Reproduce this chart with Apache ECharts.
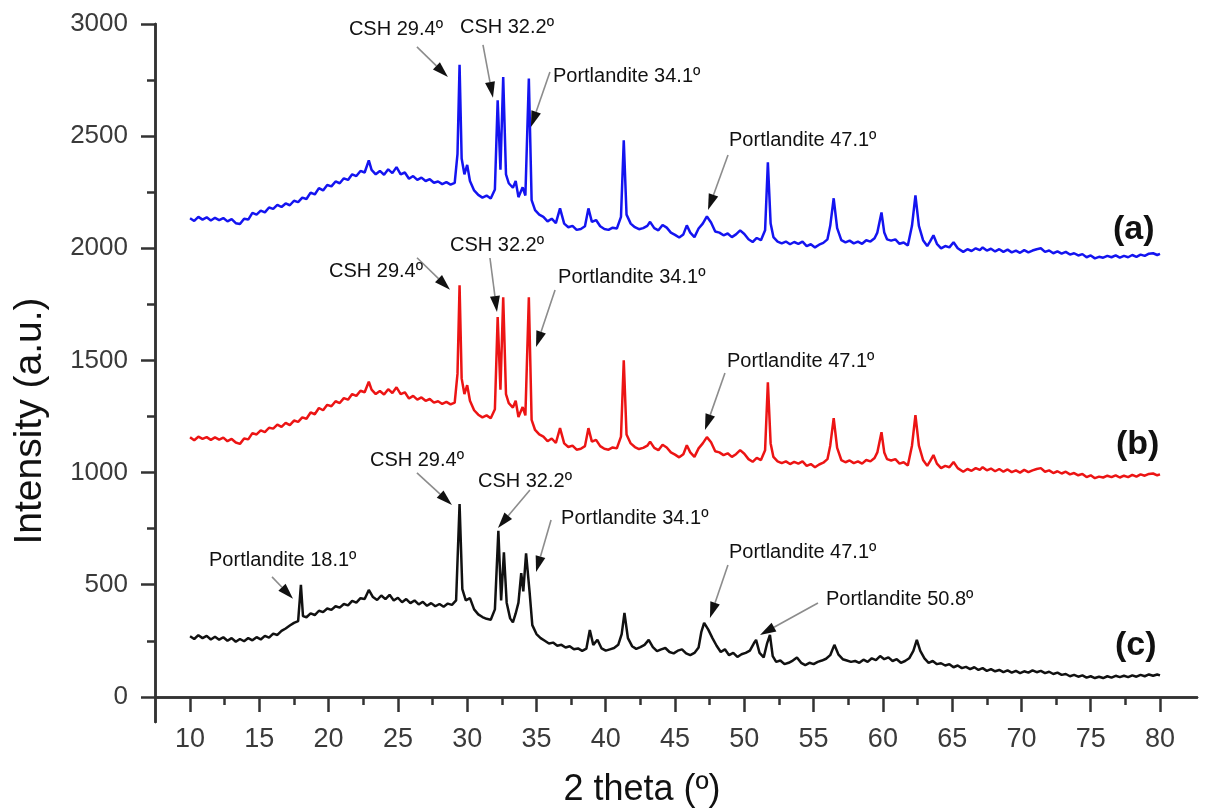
<!DOCTYPE html>
<html><head><meta charset="utf-8">
<script src="https://cdn.jsdelivr.net/npm/echarts@6/dist/echarts.min.js"></script>
<style>html,body{margin:0;padding:0;background:#fff}#c{width:1208px;height:812px}</style>
</head><body><div id="c"></div>
<script>
// ---- data: [2 theta, intensity] ----
const seriesA = [[10.0,2134],[10.3,2122],[10.6,2140],[10.9,2128],[11.2,2138],[11.5,2124],[11.8,2136],[12.1,2126],[12.4,2135],[12.7,2120],[13.0,2130],[13.3,2112],[13.6,2108],[13.9,2132],[14.2,2128],[14.5,2158],[14.8,2150],[15.1,2168],[15.4,2160],[15.7,2182],[16.0,2176],[16.3,2194],[16.6,2184],[16.9,2200],[17.2,2192],[17.5,2212],[17.8,2206],[18.1,2226],[18.4,2220],[18.7,2248],[19.0,2240],[19.3,2268],[19.6,2258],[19.9,2282],[20.2,2276],[20.5,2298],[20.8,2290],[21.1,2312],[21.4,2305],[21.7,2330],[22.0,2322],[22.3,2345],[22.6,2338],[22.9,2392],[23.1,2350],[23.4,2330],[23.7,2345],[24.0,2328],[24.3,2352],[24.6,2335],[24.9,2362],[25.2,2330],[25.5,2338],[25.8,2310],[26.1,2322],[26.4,2305],[26.7,2315],[27.0,2300],[27.3,2308],[27.6,2292],[27.9,2298],[28.2,2286],[28.5,2295],[28.8,2284],[29.1,2292],[29.3,2420],[29.45,2818],[29.6,2400],[29.8,2330],[30.0,2372],[30.2,2300],[30.5,2258],[30.8,2238],[31.1,2226],[31.4,2235],[31.7,2222],[32.0,2262],[32.2,2660],[32.4,2350],[32.6,2764],[32.8,2330],[33.0,2290],[33.3,2270],[33.5,2300],[33.7,2228],[34.0,2272],[34.2,2235],[34.45,2757],[34.65,2215],[34.9,2170],[35.2,2150],[35.5,2140],[35.8,2120],[36.1,2132],[36.4,2112],[36.7,2178],[37.0,2110],[37.3,2094],[37.6,2100],[37.9,2082],[38.2,2086],[38.5,2098],[38.75,2178],[39.0,2118],[39.3,2126],[39.6,2098],[39.9,2086],[40.2,2082],[40.5,2092],[40.8,2088],[41.1,2140],[41.3,2481],[41.5,2150],[41.8,2110],[42.1,2094],[42.4,2085],[42.7,2090],[43.0,2100],[43.2,2118],[43.5,2090],[43.8,2080],[44.1,2104],[44.4,2092],[44.7,2070],[45.0,2060],[45.3,2048],[45.6,2062],[45.85,2102],[46.1,2070],[46.4,2050],[46.7,2088],[47.0,2110],[47.3,2142],[47.6,2115],[47.9,2075],[48.2,2070],[48.5,2058],[48.8,2066],[49.1,2050],[49.4,2062],[49.7,2080],[50.0,2064],[50.3,2040],[50.6,2028],[50.9,2046],[51.2,2036],[51.5,2080],[51.7,2383],[51.9,2110],[52.1,2050],[52.4,2030],[52.7,2022],[53.0,2030],[53.3,2018],[53.6,2028],[53.9,2020],[54.2,2030],[54.5,2010],[54.8,2018],[55.1,2004],[55.4,2016],[55.7,2024],[56.0,2040],[56.2,2100],[56.45,2223],[56.7,2090],[57.0,2036],[57.3,2026],[57.6,2034],[57.9,2022],[58.2,2030],[58.5,2020],[58.8,2036],[59.1,2030],[59.4,2045],[59.6,2070],[59.9,2160],[60.1,2070],[60.3,2040],[60.6,2034],[60.9,2040],[61.2,2020],[61.5,2026],[61.8,2012],[62.1,2100],[62.35,2236],[62.6,2100],[62.9,2036],[63.2,2010],[63.4,2030],[63.65,2058],[63.9,2020],[64.2,2000],[64.5,2010],[64.8,2004],[65.1,2027],[65.4,2000],[65.8,1984],[66.1,1996],[66.4,1988],[66.7,2000],[67.0,1992],[67.2,2004],[67.5,1990],[67.8,1998],[68.1,1986],[68.4,1996],[68.7,1984],[69.0,1994],[69.3,1982],[69.6,1990],[69.9,1980],[70.2,1992],[70.5,1982],[70.8,1990],[71.1,1996],[71.4,2000],[71.7,1984],[72.0,1990],[72.3,1978],[72.6,1986],[72.9,1976],[73.2,1984],[73.5,1972],[73.8,1978],[74.1,1968],[74.4,1974],[74.7,1960],[75.0,1968],[75.3,1955],[75.6,1962],[75.9,1958],[76.2,1966],[76.5,1960],[76.8,1968],[77.1,1958],[77.4,1966],[77.7,1960],[78.0,1970],[78.3,1962],[78.6,1972],[78.9,1966],[79.2,1976],[79.5,1978],[79.8,1970],[80.0,1975]];

const seriesB = [[10.0,1158],[10.3,1144],[10.6,1160],[10.9,1150],[11.2,1158],[11.5,1146],[11.8,1157],[12.1,1147],[12.4,1156],[12.7,1140],[13.0,1150],[13.3,1134],[13.6,1128],[13.9,1152],[14.2,1148],[14.5,1176],[14.8,1170],[15.1,1188],[15.4,1180],[15.7,1200],[16.0,1196],[16.3,1214],[16.6,1204],[16.9,1222],[17.2,1212],[17.5,1232],[17.8,1226],[18.1,1246],[18.4,1240],[18.7,1268],[19.0,1260],[19.3,1288],[19.6,1278],[19.9,1302],[20.2,1296],[20.5,1318],[20.8,1310],[21.1,1332],[21.4,1325],[21.7,1350],[22.0,1342],[22.3,1365],[22.6,1358],[22.9,1405],[23.1,1370],[23.4,1350],[23.7,1364],[24.0,1348],[24.3,1372],[24.6,1355],[24.9,1380],[25.2,1350],[25.5,1358],[25.8,1330],[26.1,1342],[26.4,1325],[26.7,1335],[27.0,1320],[27.3,1328],[27.6,1312],[27.9,1318],[28.2,1306],[28.5,1315],[28.8,1304],[29.1,1312],[29.3,1440],[29.45,1835],[29.6,1420],[29.8,1350],[30.0,1390],[30.2,1320],[30.5,1278],[30.8,1258],[31.1,1246],[31.4,1255],[31.7,1242],[32.0,1282],[32.2,1693],[32.4,1370],[32.6,1782],[32.8,1350],[33.0,1310],[33.3,1290],[33.5,1320],[33.7,1248],[34.0,1292],[34.2,1255],[34.45,1782],[34.65,1235],[34.9,1190],[35.2,1170],[35.5,1160],[35.8,1140],[36.1,1152],[36.4,1132],[36.7,1198],[37.0,1130],[37.3,1114],[37.6,1120],[37.9,1102],[38.2,1106],[38.5,1118],[38.75,1198],[39.0,1138],[39.3,1146],[39.6,1118],[39.9,1106],[40.2,1102],[40.5,1112],[40.8,1108],[41.1,1160],[41.3,1501],[41.5,1170],[41.8,1130],[42.1,1114],[42.4,1105],[42.7,1110],[43.0,1120],[43.2,1138],[43.5,1110],[43.8,1100],[44.1,1124],[44.4,1112],[44.7,1090],[45.0,1080],[45.3,1068],[45.6,1082],[45.85,1122],[46.1,1090],[46.4,1070],[46.7,1108],[47.0,1130],[47.3,1158],[47.6,1135],[47.9,1095],[48.2,1090],[48.5,1078],[48.8,1086],[49.1,1070],[49.4,1082],[49.7,1100],[50.0,1084],[50.3,1060],[50.6,1048],[50.9,1066],[51.2,1056],[51.5,1100],[51.7,1403],[51.9,1130],[52.1,1070],[52.4,1050],[52.7,1042],[53.0,1050],[53.3,1038],[53.6,1048],[53.9,1040],[54.2,1050],[54.5,1030],[54.8,1038],[55.1,1024],[55.4,1036],[55.7,1044],[56.0,1060],[56.2,1120],[56.45,1243],[56.7,1110],[57.0,1056],[57.3,1046],[57.6,1054],[57.9,1042],[58.2,1050],[58.5,1040],[58.8,1056],[59.1,1050],[59.4,1065],[59.6,1090],[59.9,1180],[60.1,1090],[60.3,1060],[60.6,1054],[60.9,1060],[61.2,1040],[61.5,1046],[61.8,1032],[62.1,1120],[62.35,1256],[62.6,1120],[62.9,1056],[63.2,1030],[63.4,1050],[63.65,1078],[63.9,1040],[64.2,1020],[64.5,1030],[64.8,1024],[65.1,1047],[65.4,1020],[65.8,1004],[66.1,1016],[66.4,1008],[66.7,1020],[67.0,1012],[67.2,1024],[67.5,1010],[67.8,1018],[68.1,1006],[68.4,1016],[68.7,1004],[69.0,1014],[69.3,1002],[69.6,1010],[69.9,1000],[70.2,1012],[70.5,1002],[70.8,1010],[71.1,1016],[71.4,1020],[71.7,1004],[72.0,1010],[72.3,998],[72.6,1006],[72.9,996],[73.2,1004],[73.5,992],[73.8,998],[74.1,988],[74.4,994],[74.7,980],[75.0,988],[75.3,975],[75.6,982],[75.9,978],[76.2,986],[76.5,980],[76.8,988],[77.1,978],[77.4,986],[77.7,980],[78.0,990],[78.3,982],[78.6,992],[78.9,986],[79.2,994],[79.5,996],[79.8,988],[80.0,992]];

const seriesC = [[10.0,270],[10.3,258],[10.6,275],[10.9,262],[11.2,272],[11.5,256],[11.8,268],[12.1,255],[12.4,266],[12.7,250],[13.0,262],[13.3,246],[13.6,258],[13.9,248],[14.2,262],[14.5,252],[14.8,266],[15.1,256],[15.4,272],[15.7,264],[16.0,282],[16.3,276],[16.6,294],[16.9,305],[17.2,318],[17.5,330],[17.8,338],[18.0,500],[18.15,360],[18.4,355],[18.7,372],[19.0,365],[19.3,384],[19.6,378],[19.9,394],[20.2,388],[20.5,404],[20.8,398],[21.1,414],[21.4,408],[21.7,428],[22.0,420],[22.3,440],[22.6,436],[22.9,477],[23.2,445],[23.5,432],[23.8,452],[24.1,436],[24.4,455],[24.7,430],[25.0,442],[25.3,422],[25.6,436],[25.9,418],[26.2,430],[26.5,412],[26.8,424],[27.1,406],[27.4,418],[27.7,404],[28.0,414],[28.3,402],[28.6,416],[28.9,410],[29.2,430],[29.45,860],[29.65,480],[29.9,430],[30.2,440],[30.5,390],[30.8,368],[31.1,356],[31.4,348],[31.7,344],[32.0,390],[32.25,740],[32.45,430],[32.65,645],[32.85,420],[33.1,350],[33.3,332],[33.5,372],[33.7,420],[33.9,552],[34.05,470],[34.25,640],[34.5,470],[34.7,320],[35.0,280],[35.3,262],[35.6,250],[35.9,238],[36.2,242],[36.5,228],[36.8,232],[37.1,220],[37.4,226],[37.7,212],[38.0,216],[38.3,205],[38.6,215],[38.85,298],[39.1,232],[39.4,255],[39.7,216],[40.0,206],[40.3,212],[40.6,218],[40.9,232],[41.15,280],[41.35,374],[41.6,262],[41.9,226],[42.2,214],[42.5,222],[42.8,232],[43.1,254],[43.4,222],[43.7,204],[44.0,212],[44.3,218],[44.6,200],[44.9,194],[45.2,206],[45.5,212],[45.8,194],[46.1,186],[46.4,196],[46.7,220],[46.9,290],[47.1,330],[47.4,300],[47.7,262],[48.0,228],[48.3,200],[48.6,212],[48.9,186],[49.2,196],[49.5,178],[49.8,190],[50.1,196],[50.4,206],[50.7,240],[50.85,254],[51.1,196],[51.4,176],[51.65,240],[51.85,276],[52.05,182],[52.3,156],[52.6,162],[52.9,146],[53.2,152],[53.5,162],[53.8,176],[54.1,152],[54.4,142],[54.7,152],[55.0,146],[55.3,156],[55.6,162],[55.9,170],[56.2,186],[56.5,232],[56.8,188],[57.1,168],[57.4,162],[57.7,156],[58.0,160],[58.3,152],[58.6,166],[58.9,156],[59.2,172],[59.5,164],[59.8,182],[60.1,168],[60.4,176],[60.7,160],[61.0,168],[61.3,152],[61.6,160],[61.9,172],[62.2,205],[62.45,254],[62.7,205],[63.0,172],[63.3,152],[63.6,160],[63.9,146],[64.2,150],[64.5,140],[64.8,146],[65.1,132],[65.4,140],[65.7,128],[66.0,134],[66.3,124],[66.6,132],[66.9,120],[67.2,128],[67.5,116],[67.8,124],[68.1,114],[68.4,120],[68.7,110],[69.0,118],[69.3,108],[69.6,116],[69.9,106],[70.2,114],[70.5,108],[70.8,118],[71.1,110],[71.4,116],[71.7,106],[72.0,112],[72.3,102],[72.6,108],[72.9,98],[73.2,102],[73.5,92],[73.8,98],[74.1,90],[74.4,96],[74.7,86],[75.0,92],[75.3,84],[75.6,90],[75.9,84],[76.2,92],[76.5,86],[76.8,94],[77.1,88],[77.4,94],[77.7,88],[78.0,96],[78.3,90],[78.6,98],[78.9,92],[79.2,100],[79.5,94],[79.8,100],[80.0,96]];

const xMajorTicks = [10,15,20,25,30,35,40,45,50,55,60,65,70,75,80];
const xMinorTicks = [12.5,17.5,22.5,27.5,32.5,37.5,42.5,47.5,52.5,57.5,62.5,67.5,72.5,77.5];
const yMajorTicks = [0,500,1000,1500,2000,2500,3000];
const yMinorTicks = [250,750,1250,1750,2250,2750];
const seriesNames = ['(a)','(b)','(c)'];

// peak annotations: tip in data space, tail / label offsets in px relative to tip
const annotations = [
  {text:'CSH 29.4º', tip:[28.61,2764], tail:[-31,-30], label:[-99,-47]},
  {text:'CSH 32.2º', tip:[31.86,2671], tail:[-10,-53], label:[-33,-70]},
  {text:'Portlandite 34.1º', tip:[34.60,2541], tail:[19,-55], label:[22,-50]},
  {text:'Portlandite 47.1º', tip:[47.38,2171], tail:[20,-55], label:[21,-69]},
  {text:'CSH 29.4º', tip:[28.76,1815], tail:[-33,-32], label:[-121,-18]},
  {text:'CSH 32.2º', tip:[32.15,1716], tail:[-7,-54], label:[-47,-67]},
  {text:'Portlandite 34.1º', tip:[34.97,1560], tail:[19,-57], label:[22,-69]},
  {text:'Portlandite 47.1º', tip:[47.16,1190], tail:[20,-57], label:[22,-68]},
  {text:'CSH 29.4º', tip:[28.90,856], tail:[-35,-32], label:[-82,-44]},
  {text:'CSH 32.2º', tip:[32.22,753], tail:[32,-38], label:[-20,-47]},
  {text:'Portlandite 34.1º', tip:[34.97,557], tail:[15,-52], label:[25,-53]},
  {text:'Portlandite 18.1º', tip:[17.43,437], tail:[-21,-22], label:[-84,-38]},
  {text:'Portlandite 47.1º', tip:[47.52,352], tail:[18,-53], label:[19,-65]},
  {text:'Portlandite 50.8º', tip:[51.13,276], tail:[58,-32], label:[66,-35]}
];

const FONT = 'Liberation Sans, Arial, sans-serif';
const axisColor = '#333';
const plain = function(v){ return String(v); };

const xBase = {
  type:'value', min:7.47, max:82.67, position:'bottom', splitLine:{show:false},
  axisLine:{show:true, onZero:true, onZeroAxisIndex:0, lineStyle:{color:axisColor, width:2.5}}
};
const yBase = {
  type:'value', min:-112, max:3000, splitLine:{show:false}, position:'left',
  axisLine:{show:true, onZero:false, lineStyle:{color:axisColor, width:2.5}}
};

const option = {
  animation:false,
  backgroundColor:'#fff',
  grid:{left:155, right:11, top:24, bottom:90, containLabel:false, outerBoundsMode:'none'},
  xAxis:[
    Object.assign({}, xBase, {
      axisTick:{show:true, inside:false, customValues:xMajorTicks, length:15, lineStyle:{color:axisColor, width:2.5}},
      axisLabel:{show:true, customValues:xMajorTicks, formatter:plain, fontSize:27, color:'#3a3a3a', margin:4, fontFamily:FONT}
    }),
    Object.assign({}, xBase, {
      axisTick:{show:true, inside:false, customValues:xMinorTicks, length:8, lineStyle:{color:axisColor, width:2.5}},
      axisLabel:{show:false}
    })
  ],
  yAxis:[
    Object.assign({}, yBase, {
      axisTick:{show:true, customValues:yMajorTicks, length:14, lineStyle:{color:axisColor, width:2.5}},
      axisLabel:{show:true, customValues:yMajorTicks, formatter:plain, fontSize:26, color:'#3a3a3a', margin:27, fontFamily:FONT}
    }),
    Object.assign({}, yBase, {
      axisTick:{show:true, customValues:yMinorTicks, length:8, lineStyle:{color:axisColor, width:2.5}},
      axisLabel:{show:false}
    })
  ],
  series:[
    {name:seriesNames[0], type:'line', data:seriesA, showSymbol:false, lineStyle:{color:'#1414f0', width:2.5}, xAxisIndex:0, yAxisIndex:0},
    {name:seriesNames[1], type:'line', data:seriesB, showSymbol:false, lineStyle:{color:'#ec1414', width:2.5}, xAxisIndex:0, yAxisIndex:0},
    {name:seriesNames[2], type:'line', data:seriesC, showSymbol:false, lineStyle:{color:'#111111', width:2.5}, xAxisIndex:0, yAxisIndex:0}
  ]
};

const chart = echarts.init(document.getElementById('c'), null, {renderer:'canvas'});
chart.setOption(option);

const g = [];
annotations.forEach(function(a){
  const tip = chart.convertToPixel({xAxisIndex:0, yAxisIndex:0}, a.tip);
  const tail = [tip[0]+a.tail[0], tip[1]+a.tail[1]];
  const dx = tip[0]-tail[0], dy = tip[1]-tail[1];
  const len = Math.hypot(dx, dy);
  const ux = dx/len, uy = dy/len, hl = 16, hw = 5;
  const bx = tip[0]-ux*hl, by = tip[1]-uy*hl;
  g.push({type:'line', z:100, shape:{x1:tail[0], y1:tail[1], x2:bx, y2:by}, style:{stroke:'#8c8c8c', lineWidth:1.6}});
  g.push({type:'polygon', z:101, shape:{points:[[tip[0],tip[1]],[bx-uy*hw, by+ux*hw],[bx+uy*hw, by-ux*hw]]}, style:{fill:'#111'}});
  g.push({type:'text', z:102, x:tip[0]+a.label[0], y:tip[1]+a.label[1],
    style:{text:a.text, fill:'#111', fontSize:20, fontFamily:FONT, align:'left', verticalAlign:'middle'}});
});
// series tags
const tagPos = [[1113,230],[1116,445],[1115,646]];
seriesNames.forEach(function(n, i){
  g.push({type:'text', z:102, x:tagPos[i][0], y:tagPos[i][1],
    style:{text:n, fill:'#111', fontSize:34, fontWeight:'bold', fontFamily:FONT, align:'left', verticalAlign:'middle'}});
});
// axis titles
g.push({type:'text', z:102, x:642, y:790, style:{text:'2 theta (º)', fill:'#111', fontSize:36, fontFamily:FONT, align:'center', verticalAlign:'middle'}});
g.push({type:'text', z:102, x:30, y:421, rotation:Math.PI/2, style:{text:'Intensity (a.u.)', fill:'#111', fontSize:39, fontFamily:FONT, align:'center', verticalAlign:'middle'}});
chart.setOption({graphic:g});
</script>
</body></html>
